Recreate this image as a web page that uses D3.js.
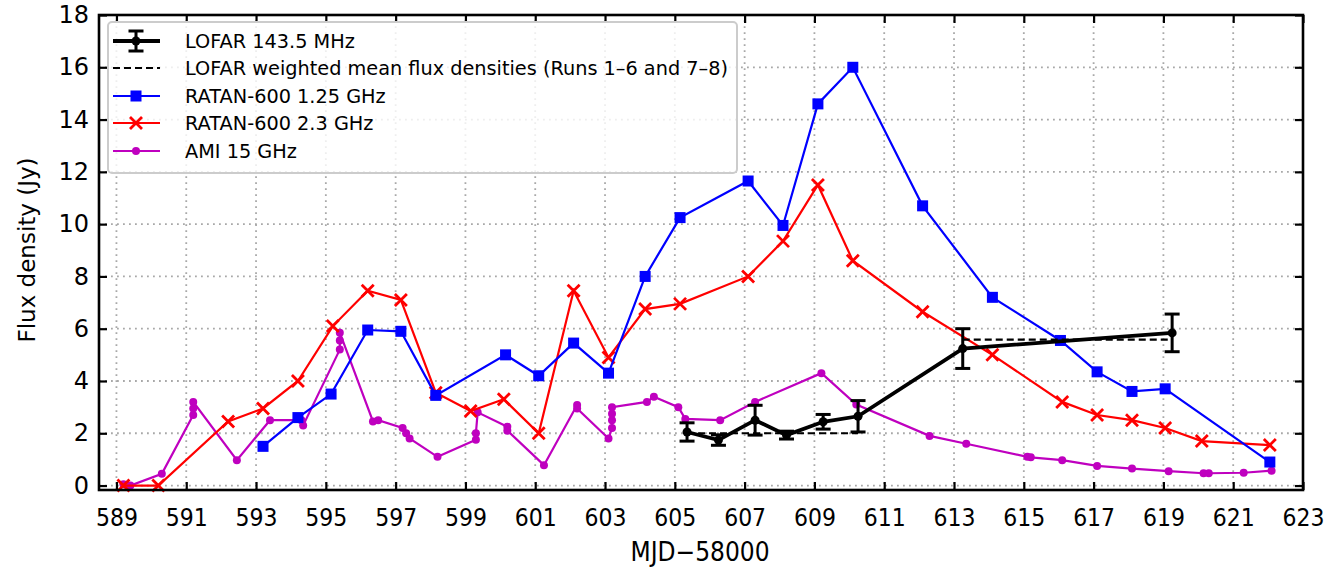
<!DOCTYPE html>
<html>
<head>
<meta charset="utf-8">
<script src="https://cdn.jsdelivr.net/npm/d3@7"></script>
<style>
  body { margin: 0; background: #fff; }
  text { font-family: "DejaVu Sans", sans-serif; fill: #000; }
</style>
</head>
<body>
<div id="chart"></div>
<script>
// RATAN-600 1.25 GHz
var ratan125Mjd = [593.2, 594.2, 595.15, 596.2, 597.15, 598.15, 600.15, 601.1, 602.1, 603.1, 604.15, 605.15, 607.1, 608.1, 609.1, 610.1, 612.1, 614.1, 616.05, 617.1, 618.1, 619.05, 622.05];
var ratan125Flux = [1.5, 2.6, 3.5, 5.95, 5.9, 3.45, 5.0, 4.2, 5.45, 4.3, 8.0, 10.25, 11.65, 9.95, 14.6, 16.0, 10.7, 7.2, 5.55, 4.35, 3.6, 3.7, 0.9];

// RATAN-600 2.3 GHz
var ratan23Mjd = [589.2, 590.2, 592.2, 593.2, 594.2, 595.2, 596.2, 597.15, 598.15, 599.15, 600.1, 601.1, 602.1, 603.1, 604.15, 605.15, 607.1, 608.1, 609.1, 610.1, 612.1, 614.1, 616.1, 617.1, 618.1, 619.05, 620.1, 622.05];
var ratan23Flux = [0.0, 0.0, 2.45, 2.95, 4.0, 6.1, 7.45, 7.1, 3.55, 2.85, 3.3, 2.0, 7.45, 4.9, 6.75, 6.95, 8.0, 9.35, 11.5, 8.6, 6.65, 5.0, 3.2, 2.7, 2.5, 2.2, 1.7, 1.55];

// AMI 15 GHz
var amiMjd = [589.2, 589.4, 590.3, 591.2, 591.2, 591.2, 592.45, 593.4, 594.3, 594.35, 595.4, 595.4, 595.4, 596.35, 596.5, 597.2, 597.3, 597.4, 598.2, 599.3, 599.3, 599.35, 600.2, 600.2, 601.25, 602.2, 602.2, 603.1, 603.2, 603.2, 603.2, 603.2, 604.2, 604.4, 605.1, 605.3, 606.3, 607.3, 609.2, 610.2, 612.3, 613.35, 615.1, 615.2, 616.1, 617.1, 618.1, 619.15, 620.15, 620.3, 621.3, 622.1];
var amiFlux = [0.05, 0.0, 0.45, 2.7, 2.95, 3.2, 0.97, 2.5, 2.5, 2.3, 5.2, 5.55, 5.85, 2.45, 2.5, 2.2, 2.0, 1.8, 1.1, 1.75, 2.0, 2.8, 2.25, 2.1, 0.78, 3.08, 2.95, 1.8, 2.2, 2.5, 2.75, 3.0, 3.2, 3.4, 3.0, 2.55, 2.5, 3.2, 4.3, 3.1, 1.9, 1.6, 1.1, 1.08, 0.97, 0.75, 0.65, 0.55, 0.47, 0.47, 0.49, 0.57];

// LOFAR 143.5 MHz with errors
var lofarMjd = [605.35, 606.25, 607.3, 608.2, 609.25, 610.25, 613.25, 619.25];
var lofarFlux = [2.05, 1.74, 2.5, 1.93, 2.44, 2.65, 5.24, 5.84];
var lofarErr = [0.35, 0.2, 0.57, 0.15, 0.28, 0.6, 0.76, 0.72];

// weighted means (runs 1-6, 7-8)
var meanStart = [605.35, 613.25];
var meanEnd = [610.25, 619.25];
var meanFlux = [2.0, 5.58];

var xTicks = d3.range(589, 624, 2);
var yTicks = d3.range(0, 19, 2);

var legendLabels = ["LOFAR 143.5 MHz", "LOFAR weighted mean flux densities (Runs 1\u20136 and 7\u20138)", "RATAN-600 1.25 GHz", "RATAN-600 2.3 GHz", "AMI 15 GHz"];

var W = 1330, H = 568;
var margin = {top: 15, right: 27, bottom: 78, left: 99};

var svg = d3.select("#chart").append("svg")
  .attr("width", W)
  .attr("height", H);

var x = d3.scaleLinear().domain([588.5, 623]).range([margin.left, W - margin.right]);
var y = d3.scaleLinear().domain([-0.17, 18]).range([H - margin.bottom, margin.top]);

var blue = "#0000ff", red = "#ff0000", mag = "#bf00bf";

// grid
var grid = svg.append("g").attr("stroke", "#a8a8a8").attr("stroke-width", 1.8).attr("stroke-dasharray", "1.8,4.2");
grid.selectAll(".gx").data(xTicks).enter().append("line")
  .attr("x1", d => x(d)).attr("x2", d => x(d))
  .attr("y1", y.range()[0]).attr("y2", y.range()[1]);
grid.selectAll(".gy").data(yTicks).enter().append("line")
  .attr("x1", x.range()[0]).attr("x2", x.range()[1])
  .attr("y1", d => y(d)).attr("y2", d => y(d));

var plot = svg.append("g");

function zip(a, b) { return a.map((v, i) => [v, b[i]]); }

var line = d3.line().x(d => x(d[0])).y(d => y(d[1]));

// AMI
var ami = zip(amiMjd, amiFlux);
plot.append("path").datum(ami).attr("d", line)
  .attr("fill", "none").attr("stroke", mag).attr("stroke-width", 2.2);
plot.selectAll(".ami").data(ami).enter().append("circle")
  .attr("cx", d => x(d[0])).attr("cy", d => y(d[1])).attr("r", 4).attr("fill", mag);

// RATAN 2.3
var r23 = zip(ratan23Mjd, ratan23Flux);
plot.append("path").datum(r23).attr("d", line)
  .attr("fill", "none").attr("stroke", red).attr("stroke-width", 2.2);
var xs = 6;
plot.selectAll(".r23").data(r23).enter().append("path")
  .attr("d", d => {
    var cx = x(d[0]), cy = y(d[1]);
    return "M" + (cx - xs) + "," + (cy - xs) + "L" + (cx + xs) + "," + (cy + xs) +
           "M" + (cx - xs) + "," + (cy + xs) + "L" + (cx + xs) + "," + (cy - xs);
  })
  .attr("stroke", red).attr("stroke-width", 2.8).attr("fill", "none");

// RATAN 1.25
var r125 = zip(ratan125Mjd, ratan125Flux);
plot.append("path").datum(r125).attr("d", line)
  .attr("fill", "none").attr("stroke", blue).attr("stroke-width", 2.2);
plot.selectAll(".r125").data(r125).enter().append("rect")
  .attr("x", d => x(d[0]) - 5.5).attr("y", d => y(d[1]) - 5.5)
  .attr("width", 11).attr("height", 11).attr("fill", blue);

// weighted means
plot.selectAll(".mean").data(meanFlux).enter().append("line")
  .attr("x1", (d, i) => x(meanStart[i])).attr("x2", (d, i) => x(meanEnd[i]))
  .attr("y1", d => y(d)).attr("y2", d => y(d))
  .attr("stroke", "#000").attr("stroke-width", 2.2).attr("stroke-dasharray", "7,4");

// LOFAR
var lofar = lofarMjd.map((m, i) => ({m: m, f: lofarFlux[i], e: lofarErr[i]}));
plot.append("path").datum(lofar.map(d => [d.m, d.f])).attr("d", line)
  .attr("fill", "none").attr("stroke", "#000").attr("stroke-width", 3.8);
var eb = plot.selectAll(".eb").data(lofar).enter().append("g").attr("stroke", "#000").attr("stroke-width", 3);
eb.append("line").attr("x1", d => x(d.m)).attr("x2", d => x(d.m))
  .attr("y1", d => y(d.f - d.e)).attr("y2", d => y(d.f + d.e));
eb.append("line").attr("x1", d => x(d.m) - 7.5).attr("x2", d => x(d.m) + 7.5)
  .attr("y1", d => y(d.f - d.e)).attr("y2", d => y(d.f - d.e));
eb.append("line").attr("x1", d => x(d.m) - 7.5).attr("x2", d => x(d.m) + 7.5)
  .attr("y1", d => y(d.f + d.e)).attr("y2", d => y(d.f + d.e));
plot.selectAll(".ld").data(lofar).enter().append("circle")
  .attr("cx", d => x(d.m)).attr("cy", d => y(d.f)).attr("r", 4.5).attr("fill", "#000");

// axes (ticks inward on all sides)
var gB = svg.append("g").attr("transform", "translate(0," + y.range()[0] + ")")
  .call(d3.axisBottom(x).tickValues(xTicks).tickSize(-8).tickPadding(18).tickFormat(d3.format("d")));
var gT = svg.append("g").attr("transform", "translate(0," + y.range()[1] + ")")
  .call(d3.axisTop(x).tickValues(xTicks).tickSize(-8).tickFormat(""));
var gL = svg.append("g").attr("transform", "translate(" + x.range()[0] + ",0)")
  .call(d3.axisLeft(y).tickValues(yTicks).tickSize(-8).tickPadding(10));
var gR = svg.append("g").attr("transform", "translate(" + x.range()[1] + ",0)")
  .call(d3.axisRight(y).tickValues(yTicks).tickSize(-8).tickFormat(""));
[gB, gT, gL, gR].forEach(g => {
  g.select(".domain").remove();
  g.selectAll(".tick line").attr("stroke", "#000").attr("stroke-width", 2.2);
});
gB.selectAll(".tick text").attr("font-size", 25).attr("font-family", "DejaVu Sans")
  .attr("transform", "scale(0.88,1)");
gL.selectAll(".tick text").attr("font-size", 24).attr("font-family", "DejaVu Sans");

// frame
svg.append("rect")
  .attr("x", x.range()[0]).attr("y", y.range()[1])
  .attr("width", x.range()[1] - x.range()[0]).attr("height", y.range()[0] - y.range()[1])
  .attr("fill", "none").attr("stroke", "#000").attr("stroke-width", 2.6);

// axis labels
svg.append("text").attr("x", 700).attr("y", 561).attr("text-anchor", "middle")
  .attr("font-size", 26).attr("transform", "translate(700,0) scale(0.9,1) translate(-700,0)")
  .text("MJD\u221258000");
svg.append("text").attr("transform", "translate(35,250) rotate(-90)").attr("text-anchor", "middle")
  .attr("font-size", 23).text("Flux density (Jy)");

// legend
var leg = svg.append("g");
leg.append("rect").attr("x", 108).attr("y", 22).attr("width", 629).attr("height", 151)
  .attr("rx", 4).attr("fill", "#fff").attr("fill-opacity", 0.8)
  .attr("stroke", "#cccccc").attr("stroke-width", 2);
var rowY = [41, 68, 96, 123, 151];
var hx0 = 113, hx1 = 160, hxm = 136;
leg.selectAll(".lt").data(legendLabels).enter().append("text")
  .attr("x", 185).attr("y", (d, i) => rowY[i]).attr("dy", "0.35em")
  .attr("font-size", 19.3).text(d => d);
// handle 0: LOFAR
leg.append("line").attr("x1", hx0).attr("x2", hx1).attr("y1", rowY[0]).attr("y2", rowY[0])
  .attr("stroke", "#000").attr("stroke-width", 3.8);
leg.append("line").attr("x1", hxm).attr("x2", hxm).attr("y1", rowY[0] - 10).attr("y2", rowY[0] + 10)
  .attr("stroke", "#000").attr("stroke-width", 3);
[-10, 10].forEach(o => leg.append("line").attr("x1", hxm - 7.5).attr("x2", hxm + 7.5)
  .attr("y1", rowY[0] + o).attr("y2", rowY[0] + o).attr("stroke", "#000").attr("stroke-width", 3));
leg.append("circle").attr("cx", hxm).attr("cy", rowY[0]).attr("r", 4.5).attr("fill", "#000");
// handle 1: dashed
leg.append("line").attr("x1", hx0).attr("x2", hx1).attr("y1", rowY[1]).attr("y2", rowY[1])
  .attr("stroke", "#000").attr("stroke-width", 2.2).attr("stroke-dasharray", "7,4");
// handle 2: blue
leg.append("line").attr("x1", hx0).attr("x2", hx1).attr("y1", rowY[2]).attr("y2", rowY[2])
  .attr("stroke", blue).attr("stroke-width", 2.2);
leg.append("rect").attr("x", hxm - 5.5).attr("y", rowY[2] - 5.5).attr("width", 11).attr("height", 11).attr("fill", blue);
// handle 3: red
leg.append("line").attr("x1", hx0).attr("x2", hx1).attr("y1", rowY[3]).attr("y2", rowY[3])
  .attr("stroke", red).attr("stroke-width", 2.2);
leg.append("path").attr("d", "M" + (hxm - xs) + "," + (rowY[3] - xs) + "L" + (hxm + xs) + "," + (rowY[3] + xs) +
  "M" + (hxm - xs) + "," + (rowY[3] + xs) + "L" + (hxm + xs) + "," + (rowY[3] - xs))
  .attr("stroke", red).attr("stroke-width", 2.8);
// handle 4: magenta
leg.append("line").attr("x1", hx0).attr("x2", hx1).attr("y1", rowY[4]).attr("y2", rowY[4])
  .attr("stroke", mag).attr("stroke-width", 2.2);
leg.append("circle").attr("cx", hxm).attr("cy", rowY[4]).attr("r", 4).attr("fill", mag);
</script>
</body>
</html>
